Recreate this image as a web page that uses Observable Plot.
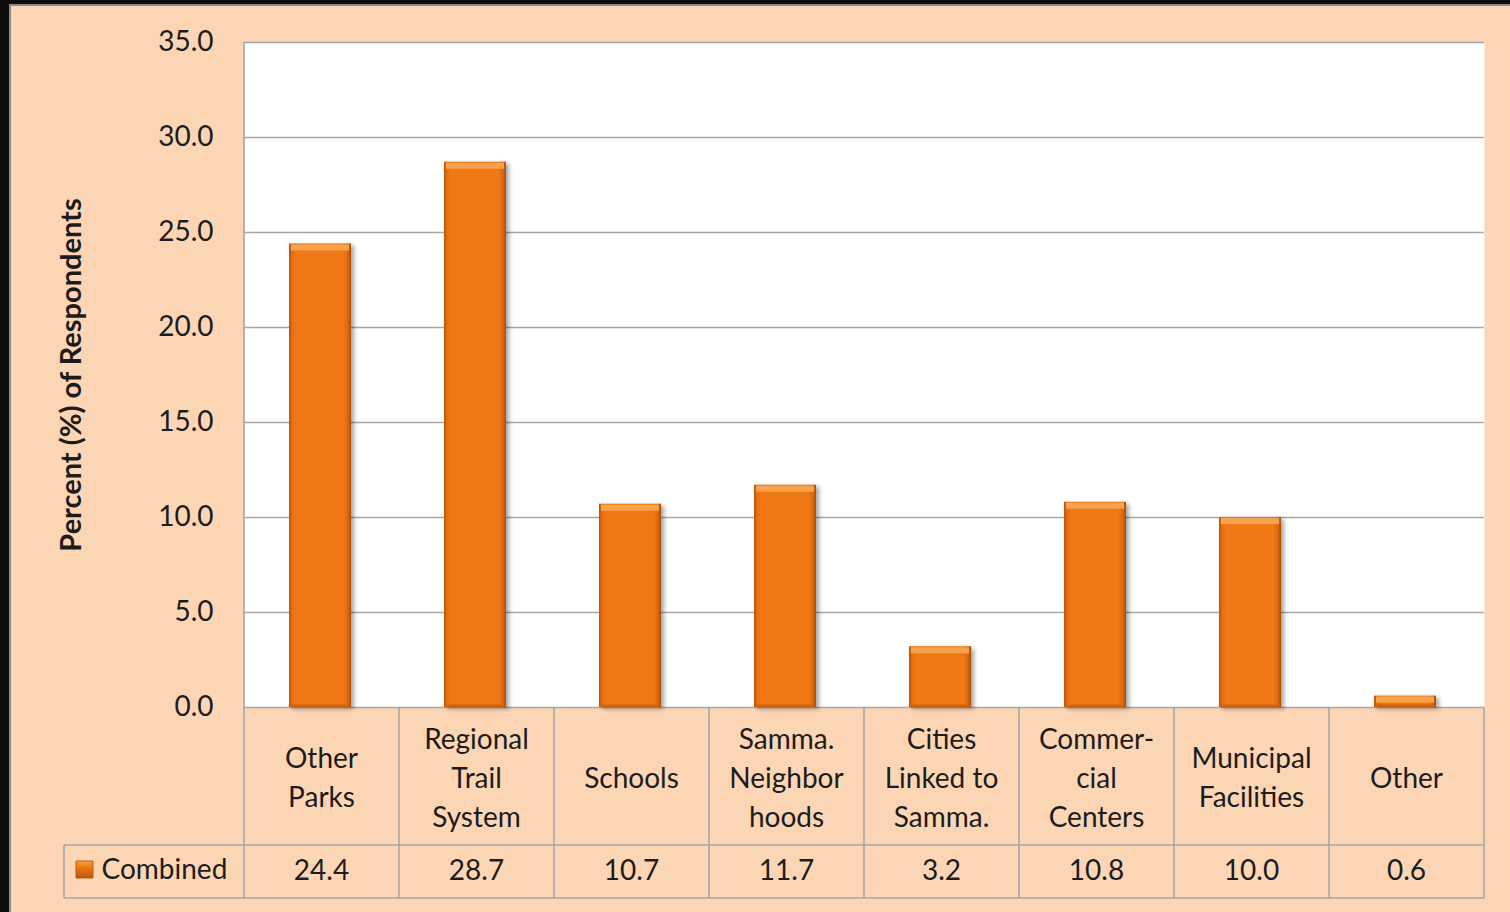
<!DOCTYPE html>
<html>
<head>
<meta charset="utf-8">
<script src="https://cdn.jsdelivr.net/npm/d3@7"></script>
<script src="https://cdn.jsdelivr.net/npm/@observablehq/plot@0.6"></script>
<style>
  html, body { margin: 0; padding: 0; background: #FCD5B5; }
  #chart svg { display: block; }
</style>
</head>
<body>
<div id="chart"></div>
<script>
// ---- data ----
const categories = ["Other\nParks", "Regional\nTrail\nSystem", "Schools", "Samma.\nNeighbor\nhoods",
                    "Cities\nLinked to\nSamma.", "Commer-\ncial\nCenters", "Municipal\nFacilities", "Other"];
const values = [24.4, 28.7, 10.7, 11.7, 3.2, 10.8, 10.0, 0.6];
const yTicks = [0, 5, 10, 15, 20, 25, 30, 35];
const seriesName = "Combined";
const yTitle = "Percent (%) of Respondents";

const data = categories.map((c, i) => ({cat: c, value: values[i]}));

// ---- layout helpers (pixel rows of the data table, converted into y units) ----
const W = 1510, H = 912, mTop = 42, mBottom = 205, mLeft = 244, mRight = 26;
const plotBottom = H - mBottom, pxPerUnit = (plotBottom - mTop) / 35;
const yAt = px => (plotBottom - px) / pxPerUnit;
const rowMidCat = yAt(775), rowSplit = yAt(845), rowBottom = yAt(898), rowMidVal = yAt(871);
const fmt = d3.format(".1f");
const gridColor = "#A6A6A6";
const textColor = "#1c1c1c";

const plot = Plot.plot({
  width: W, height: H,
  marginTop: mTop, marginBottom: mBottom, marginLeft: mLeft, marginRight: mRight,
  style: {background: "#FCD5B5", fontFamily: "Lato, 'Open Sans', sans-serif", fontSize: "28px", color: textColor, overflow: "visible"},
  x: {domain: categories, paddingInner: 0.6, paddingOuter: 0.3, axis: null},
  y: {domain: [0, 35], ticks: yTicks, tickFormat: fmt, tickSize: 0, tickPadding: 31, label: null},
  marks: [
    Plot.frame({fill: "white", stroke: null}),
    Plot.ruleY(yTicks, {stroke: gridColor, strokeWidth: 1.6}),
    Plot.barY(data, {x: "cat", y: "value", dx: -2, fill: "url(#barGrad)"}),
    Plot.tickY(data, {x: "cat", y: "value", dx: -2, stroke: "#F9A24C", strokeWidth: 6, dy: 3.5, insetLeft: 2, insetRight: 2}),
    Plot.tickY(data, {x: "cat", y: 0, dx: -2, stroke: "#D0620C", strokeWidth: 3, dy: -1.5, insetLeft: 2, insetRight: 2}),
    Plot.text(data, {x: "cat", y: () => rowMidCat, dx: -1, text: "cat", fontSize: 28, lineHeight: 39 / 28, fill: textColor}),
    Plot.text(data, {x: "cat", y: () => rowMidVal, dx: -1, text: d => fmt(d.value), fontSize: 28, fill: textColor}),
    Plot.text([seriesName], {frameAnchor: "left", y: () => rowMidVal, text: d => d, textAnchor: "start", dx: 101 - mLeft, dy: -1, fontSize: 28, fill: textColor}),
    Plot.dot([seriesName], {frameAnchor: "left", y: () => rowMidVal, dx: 84 - mLeft, dy: -2, symbol: "square", r: 9.6, fill: "url(#iconGrad)", stroke: "#A84B07", strokeWidth: 0.8}),
    Plot.text([yTitle], {frameAnchor: "left", text: d => d, rotate: -90, textAnchor: "middle", dx: 71 - mLeft, fontSize: 29, fontWeight: "bold", fill: textColor})
  ]
});

document.getElementById("chart").appendChild(plot);

// ---- decorations: gradients, shadow, table grid, outer border ----
const svg = d3.select(plot);
const defs = svg.insert("defs", ":first-child");
const g1 = defs.append("linearGradient").attr("id", "barGrad").attr("x1", "0").attr("x2", "1").attr("y1", "0").attr("y2", "0");
[[0, "#B9540A"], [0.05, "#E56F12"], [0.12, "#F07815"], [0.88, "#F07815"], [0.95, "#DA690F"], [1, "#A94B06"]]
  .forEach(([o, c]) => g1.append("stop").attr("offset", o).attr("stop-color", c));
const g2 = defs.append("linearGradient").attr("id", "iconGrad").attr("x1", "0").attr("x2", "0").attr("y1", "0").attr("y2", "1");
[[0, "#F9A24C"], [0.35, "#F07815"], [1, "#C05808"]]
  .forEach(([o, c]) => g2.append("stop").attr("offset", o).attr("stop-color", c));

svg.selectAll("g[aria-label='bar']").style("filter", "drop-shadow(3px 2px 2px rgba(0,0,0,0.35))");

const sxd = plot.scale("x"), syd = plot.scale("y");
const bx = d3.scaleBand(sxd.domain, sxd.range).paddingInner(sxd.paddingInner).paddingOuter(sxd.paddingOuter).align(sxd.align ?? 0.5);
const ys = d3.scaleLinear(syd.domain, syd.range);
const half = bx.step() * bx.paddingInner() / 2;
const edges = categories.map(c => bx(c) - half);
edges.push(bx(categories[categories.length - 1]) + bx.bandwidth() + half);

const lines = svg.append("g").attr("stroke", gridColor).attr("stroke-width", 1.6).attr("fill", "none");
edges.forEach((x, i) => {
  lines.append("line").attr("x1", x).attr("x2", x)
    .attr("y1", i === 0 ? ys(35) : ys(0)).attr("y2", ys(rowBottom));
});
const legendLeft = 64;
[rowSplit, rowBottom].forEach(v => {
  lines.append("line").attr("x1", legendLeft).attr("x2", edges[edges.length - 1]).attr("y1", ys(v)).attr("y2", ys(v));
});
lines.append("line").attr("x1", legendLeft).attr("x2", legendLeft).attr("y1", ys(rowSplit)).attr("y2", ys(rowBottom));

// outer dark frame (left and top)
svg.append("rect").attr("x", 0).attr("y", 0).attr("width", 9).attr("height", H).attr("fill", "#0d0d0d");
svg.append("rect").attr("x", 0).attr("y", 0).attr("width", W).attr("height", 4).attr("fill", "#0d0d0d");
svg.append("rect").attr("x", 9).attr("y", 4).attr("width", 2).attr("height", H).attr("fill", "#8a8a8a");
svg.append("rect").attr("x", 9).attr("y", 4).attr("width", W).attr("height", 2).attr("fill", "#8a8a8a");
</script>
</body>
</html>
